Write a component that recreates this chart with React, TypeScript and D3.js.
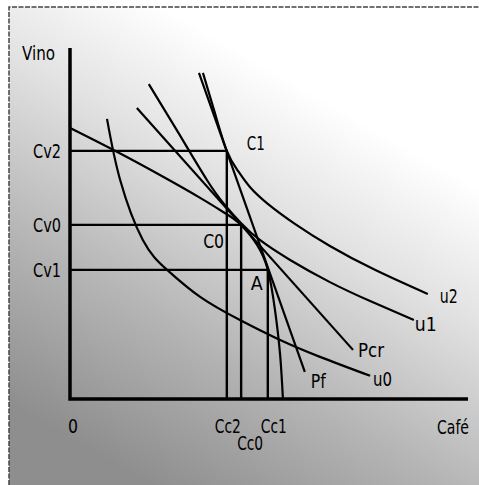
import React from 'react';
import * as d3 from 'd3';

// axis levels (data units, 0..100 on both axes)
const cafeLevels = { Cc2: 39.4, Cc0: 43.0, Cc1: 49.7 };
const vinoLevels = { Cv2: 70.7, Cv0: 49.6, Cv1: 36.8 };

// points: [café, vino]
const points = [
  { name: 'C1', c: cafeLevels.Cc2, v: vinoLevels.Cv2 },
  { name: 'C0', c: cafeLevels.Cc0, v: vinoLevels.Cv0 },
  { name: 'A', c: cafeLevels.Cc1, v: vinoLevels.Cv1 },
];

// transformation curve
const ppf: [number, number][] = [
  [0, 77.2], [11.3, 70.7], [22.6, 63.8], [32.7, 57.3], [38.9, 53.0], [43.0, 49.6],
  [47.0, 43.9], [49.7, 36.8], [51.5, 25.4], [52.8, 12.5], [53.5, 0],
];
// indifference curves
const u2: [number, number][] = [
  [33.4, 92.9], [36.4, 81.5], [39.4, 70.7], [42.2, 65.0], [45.2, 60.4], [49.7, 55.6],
  [56.5, 49.9], [65.3, 43.6], [76.6, 36.8], [89.9, 29.9],
];
const u1: [number, number][] = [
  [19.8, 89.7], [27.1, 76.1], [34.4, 62.4], [38.9, 55.3], [43.0, 50.1], [47.7, 45.3],
  [55.3, 39.6], [65.3, 33.3], [75.4, 27.9], [86.4, 22.5],
];
const u0: [number, number][] = [
  [9.3, 79.8], [12.6, 62.4], [18.3, 45.3], [24.4, 36.8], [32.7, 29.1], [42.7, 22.5],
  [52.8, 16.8], [62.8, 12.0], [75.4, 6.6],
];
// price lines
const pf: [number, number][] = [[32.4, 92.9], [59.0, 7.7]];
const pcr: [number, number][] = [[16.8, 82.9], [71.1, 14.0]];

const W = 479;
const H = 485;
const x = d3.scaleLinear().domain([0, 100]).range([70, 468]);
const y = d3.scaleLinear().domain([0, 100]).range([399, 48]);

const curve = d3.line<[number, number]>().x(d => x(d[0])).y(d => y(d[1])).curve(d3.curveNatural);
const straight = d3.line<[number, number]>().x(d => x(d[0])).y(d => y(d[1]));

const font = '"DejaVu Sans Condensed", "Liberation Sans Narrow", sans-serif';

// narrow label, squeezed to the width it has in the scan
const Label = ({ x, y, w, anchor = 'start', baseline, children }: any) => (
  <text x={x} y={y} textAnchor={anchor} dominantBaseline={baseline} textLength={w} lengthAdjust="spacingAndGlyphs">
    {children}
  </text>
);

export default function App() {
  const last = (a: [number, number][]) => a[a.length - 1];
  const curveLabels = [
    { t: 'u2', p: last(u2), dx: 12, dy: 9, w: 18 },
    { t: 'u1', p: last(u1), dx: 1, dy: 11, w: 22 },
    { t: 'Pcr', p: last(pcr), dx: 5, dy: 7, w: 26 },
    { t: 'Pf', p: last(pf), dx: 6, dy: 16, w: 15 },
    { t: 'u0', p: last(u0), dx: 3, dy: 10, w: 19 },
  ];
  return (
    <svg width={W} height={H} style={{ position: 'absolute', left: 0, top: 0 }} fontFamily={font} fontSize={20}>
      <defs>
        <linearGradient id="bg" gradientUnits="userSpaceOnUse" x1={360} y1={120} x2={150} y2={485}>
          <stop offset="0" stopColor="#ffffff" />
          <stop offset="0.28" stopColor="#e2e2e2" />
          <stop offset="0.65" stopColor="#b4b4b4" />
          <stop offset="1" stopColor="#8e8e8e" />
        </linearGradient>
      </defs>
      <rect x={0} y={0} width={W} height={H} fill="#fff" />
      <rect x={9} y={7} width={W} height={H} fill="url(#bg)" />
      <path d={`M9,${H}V7H${W}`} fill="none" stroke="#444" strokeWidth={1.5} strokeDasharray="5 1.5" />

      {/* guide lines */}
      {points.map(p => (
        <path key={p.name} d={`M${x(0)},${y(p.v)}H${x(p.c)}V${y(0)}`} fill="none" stroke="#000" strokeWidth={2.4} />
      ))}

      {/* curves */}
      {[ppf, u2, u1, u0].map((d, i) => (
        <path key={i} d={curve(d) || ''} fill="none" stroke="#000" strokeWidth={2.2} />
      ))}
      {[pf, pcr].map((d, i) => (
        <path key={'l' + i} d={straight(d) || ''} fill="none" stroke="#000" strokeWidth={2.2} />
      ))}

      {/* axes */}
      <path d={`M${x(0)},${y(100)}V${y(0)}H${x(100)}`} fill="none" stroke="#000" strokeWidth={3.5} />

      {/* axis labels */}
      <Label x={22} y={60} w={33}>Vino</Label>
      <Label x={437} y={434} w={32}>Café</Label>
      <Label x={x(0) + 3} y={433} w={10} anchor="middle">0</Label>
      {Object.entries(vinoLevels).map(([k, v]) => (
        <Label key={k} x={61} y={y(v)} w={28} anchor="end" baseline="central">{k}</Label>
      ))}
      <Label x={x(cafeLevels.Cc2) + 1} y={433} w={26} anchor="middle">Cc2</Label>
      <Label x={x(cafeLevels.Cc1) + 6} y={433} w={26} anchor="middle">Cc1</Label>
      <Label x={x(cafeLevels.Cc0) + 9} y={450} w={26} anchor="middle">Cc0</Label>

      {/* point labels */}
      <Label x={x(points[0].c) + 20} y={y(points[0].v) - 1} w={18}>C1</Label>
      <Label x={x(points[1].c) - 38} y={y(points[1].v) + 23} w={21}>C0</Label>
      <Label x={x(points[2].c) - 17} y={y(points[2].v) + 20} w={12}>A</Label>

      {curveLabels.map(l => (
        <Label key={l.t} x={x(l.p[0]) + l.dx} y={y(l.p[1]) + l.dy} w={l.w}>{l.t}</Label>
      ))}
    </svg>
  );
}
